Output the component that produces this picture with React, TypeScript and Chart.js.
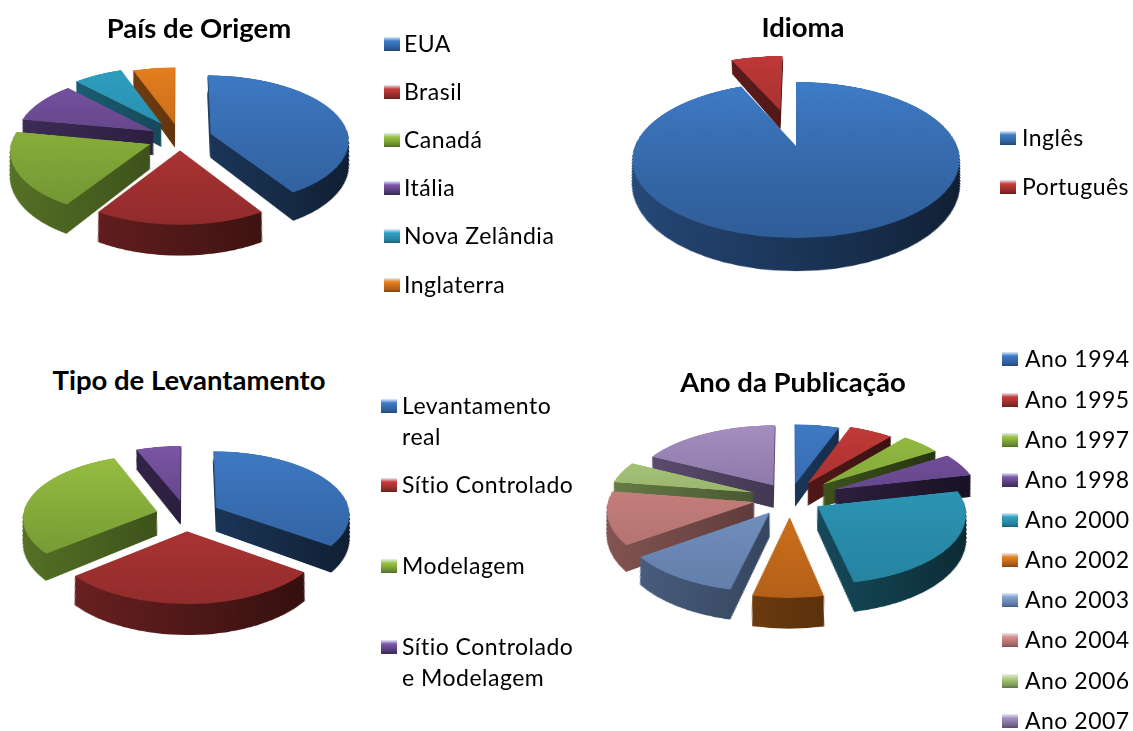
import React, { useEffect, useRef } from "react";
import { Chart, registerables } from "chart.js";

Chart.register(...registerables);

// ---- data ----
const paisLabels = ["EUA", "Brasil", "Canadá", "Itália", "Nova Zelândia", "Inglaterra"];
const paisValues = [41, 18, 19, 10, 6.5, 5.5];

const idiomaLabels = ["Inglês", "Português"];
const idiomaValues = [93.5, 6.5];

const tipoLabels = ["Levantamento real", "Sítio Controlado", "Modelagem", "Sítio Controlado e Modelagem"];
const tipoValues = [35, 29, 30, 6];

const anoLabels = ["Ano 1994", "Ano 1995", "Ano 1997", "Ano 1998", "Ano 2000", "Ano 2002", "Ano 2003", "Ano 2004", "Ano 2006", "Ano 2007"];
const anoValues = [5.5, 5.5, 5, 5.5, 25.2, 6.9, 11.4, 12.5, 5, 17.5];

// ---- styles ----
type Pair = [string, string];
const BLUE: Pair = ["#3f7cc8", "#2f5d98"];
const RED: Pair = ["#c83c3a", "#8c2a2a"];
const GREEN: Pair = ["#9cc443", "#6b8f30"];
const PURPLE: Pair = ["#7f58ab", "#4c366c"];
const TEAL: Pair = ["#30a2c4", "#25809c"];
const ORANGE: Pair = ["#ea821f", "#ad5c17"];
const LBLUE: Pair = ["#82a3d6", "#5f7aa5"];
const PINK: Pair = ["#dc8d8b", "#a56a68"];
const LGREEN: Pair = ["#b6d384", "#7f9a58"];
const LAV: Pair = ["#a893c4", "#75628f"];

function shade(hex: string, k: number) {
  const n = parseInt(hex.slice(1), 16);
  const c = (v: number) => Math.round(v * k);
  return `rgb(${c((n >> 16) & 255)},${c((n >> 8) & 255)},${c(n & 255)})`;
}

interface Pie {
  title: string; titleX: number; titleY: number;
  labels: string[]; values: number[]; colors: Pair[]; explode: number[];
  cx: number; cy: number; r: number; depth: number; tilt: number; persp: number;
}

const pies: Pie[] = [
  { title: "País de Origem", titleX: 199, titleY: 27, labels: paisLabels, values: paisValues,
    colors: [BLUE, RED, GREEN, PURPLE, TEAL, ORANGE], explode: [32, 26, 32, 30, 36, 30],
    cx: 180, cy: 138, r: 138, depth: 50, tilt: 62, persp: 1300 },
  { title: "Idioma", titleX: 803, titleY: 26, labels: idiomaLabels, values: idiomaValues,
    colors: [BLUE, RED], explode: [0, 84],
    cx: 796, cy: 146, r: 161, depth: 45, tilt: 62, persp: 800 },
  { title: "Tipo de Levantamento", titleX: 189, titleY: 379, labels: tipoLabels, values: tipoValues,
    colors: [BLUE, RED, GREEN, PURPLE], explode: [34, 34, 30, 30],
    cx: 186, cy: 515, r: 134, depth: 50, tilt: 62, persp: 1300 },
  { title: "Ano da Publicação", titleX: 793, titleY: 381, labels: anoLabels, values: anoValues,
    colors: [BLUE, RED, GREEN, PURPLE, TEAL, ORANGE, LBLUE, PINK, LGREEN, LAV],
    explode: [30, 36, 44, 48, 32, 40, 36, 36, 38, 32],
    cx: 790, cy: 498, r: 146, depth: 48, tilt: 62, persp: 1300 },
];

const paisY = [44, 92, 140, 188, 236, 285];
const idiomaY = [138, 187];
const tipoY = [406, 485, 566, 647];
const anoY = [359, 400, 440, 480, 520, 560, 600, 640, 681, 721];

interface Item { text: string; x: number; y: number; }
interface Marker { x: number; y: number; color: Pair; }
const legendMarkers: Marker[] = [
  ...paisY.map((y, i) => ({ x: 384, y, color: pies[0].colors[i] })),
  ...idiomaY.map((y, i) => ({ x: 1000, y, color: pies[1].colors[i] })),
  ...tipoY.map((y, i) => ({ x: 381, y, color: pies[2].colors[i] })),
  ...anoY.map((y, i) => ({ x: 1002, y, color: pies[3].colors[i] })),
];
const legendTexts: Item[] = [
  ...paisLabels.map((text, i) => ({ text, x: 404, y: paisY[i] - 1 })),
  ...idiomaLabels.map((text, i) => ({ text, x: 1022, y: idiomaY[i] - 1 })),
  { text: "Levantamento", x: 402, y: 405 },
  { text: "real", x: 402, y: 436 },
  { text: "Sítio Controlado", x: 402, y: 484 },
  { text: "Modelagem", x: 402, y: 565 },
  { text: "Sítio Controlado", x: 402, y: 646 },
  { text: "e Modelagem", x: 402, y: 677 },
  ...anoLabels.map((text, i) => ({ text, x: 1025, y: anoY[i] - 1 })),
];

const pie3d = {
  id: "pie3d",
  beforeDatasetsDraw(chart: any, _a: any, opts: any) {
    const { ctx } = chart;
    const meta = chart.getDatasetMeta(0);
    const p: Pie = opts.pie;
    const c = chart.width / 2;
    const flare = Math.sin((p.tilt * Math.PI) / 180) / p.persp;
    const order = meta.data
      .map((arc: any, i: number) => {
        const { startAngle, endAngle } = arc.getProps(["startAngle", "endAngle"], true);
        const mid = (startAngle + endAngle) / 2;
        return { arc, i, mid };
      })
      .sort((a: any, b: any) => Math.sin(a.mid) - Math.sin(b.mid));
    for (const { arc, i, mid } of order) {
      const [light, dark] = p.colors[i];
      const ex = p.explode[i];
      const dx = Math.cos(mid) * ex;
      const dy = Math.sin(mid) * ex;
      const saved = arc.options;
      const rim = ctx.createLinearGradient(c - p.r, 0, c + p.r, 0);
      rim.addColorStop(0, shade(dark, 0.8));
      rim.addColorStop(0.55, shade(dark, 0.55));
      rim.addColorStop(1, shade(dark, 0.32));
      arc.options = { ...saved, backgroundColor: rim, borderWidth: 0 };
      for (let d = p.depth; d >= 1; d -= 1) {
        ctx.save();
        ctx.translate(c, 0);
        ctx.scale(1 - d * flare, 1);
        ctx.translate(-c, 0);
        ctx.translate(dx, dy + d);
        arc.draw(ctx);
        ctx.restore();
      }
      const top = ctx.createLinearGradient(0, c - p.r - ex, 0, c + p.r + ex);
      top.addColorStop(0, light);
      top.addColorStop(1, dark);
      arc.options = { ...saved, backgroundColor: top, borderWidth: 0 };
      ctx.save();
      ctx.translate(dx, dy);
      arc.draw(ctx);
      ctx.restore();
      arc.options = saved;
    }
    return false;
  },
};

function PieCanvas({ pie }: { pie: Pie }) {
  const ref = useRef<HTMLCanvasElement>(null);
  const S = 2 * (pie.r + 90 + pie.depth);
  useEffect(() => {
    const chart = new Chart(ref.current as HTMLCanvasElement, {
      type: "pie",
      data: {
        labels: pie.labels,
        datasets: [{ data: pie.values, backgroundColor: pie.colors.map((c) => c[0]), borderWidth: 0 }],
      },
      options: {
        animation: false,
        responsive: false,
        radius: pie.r,
        events: [],
        plugins: { legend: { display: false }, tooltip: { enabled: false }, pie3d: { pie } },
      } as any,
      plugins: [pie3d as any],
    });
    return () => chart.destroy();
  }, []);
  return (
    <canvas
      ref={ref}
      width={S}
      height={S}
      style={{
        position: "absolute",
        left: pie.cx - S / 2,
        top: pie.cy - S / 2,
        width: S,
        height: S,
        transformOrigin: "50% 50%",
        transform: `perspective(${pie.persp}px) rotateX(${pie.tilt}deg)`,
      }}
    />
  );
}

const FONT = "Lato, 'Open Sans', sans-serif";

export default function App() {
  return (
    <div style={{ position: "absolute", left: 0, top: 0, width: 1133, height: 731, overflow: "hidden", background: "#fff", fontFamily: FONT, color: "#000", filter: "blur(0.5px)" }}>
      {pies.map((p) => <PieCanvas key={p.title} pie={p} />)}
      {pies.map((p) => (
        <div key={p.title} style={{ position: "absolute", left: p.titleX, top: p.titleY, transform: "translate(-50%,-50%)", fontSize: 27.5, fontWeight: 700, whiteSpace: "nowrap" }}>
          {p.title}
        </div>
      ))}
      {legendMarkers.map((m, i) => (
        <div key={i} style={{ position: "absolute", left: m.x, top: m.y - 7, width: 16, height: 14, background: `linear-gradient(#e4eef8 0%, ${m.color[0]} 28%, ${m.color[1]} 80%, ${shade(m.color[1], 0.75)} 100%)` }} />
      ))}
      {legendTexts.map((t, i) => (
        <div key={i} style={{ position: "absolute", left: t.x, top: t.y, transform: "translateY(-50%)", fontSize: 23, letterSpacing: 0.5, whiteSpace: "nowrap" }}>
          {t.text}
        </div>
      ))}
    </div>
  );
}
